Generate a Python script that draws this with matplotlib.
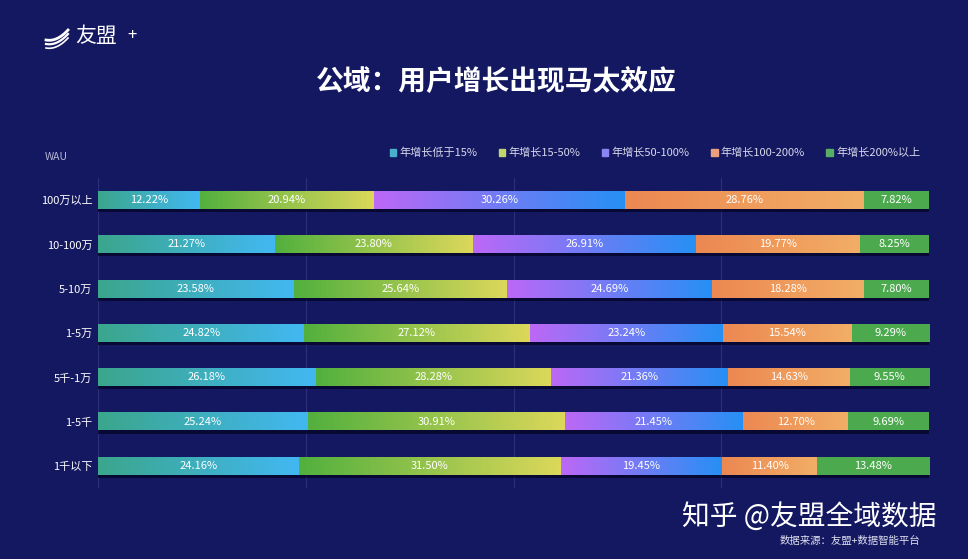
import matplotlib.pyplot as plt
import numpy as np
from matplotlib.colors import LinearSegmentedColormap
from matplotlib.patches import Rectangle

plt.rcParams['font.family'] = ['Noto Sans CJK SC', 'DejaVu Sans']

BG = '#131860'

# data
rows = ['100万以上', '10-100万', '5-10万', '1-5万', '5千-1万', '1-5千', '1千以下']
series_names = ['年增长低于15%', '年增长15-50%', '年增长50-100%', '年增长100-200%', '年增长200%以上']
low15 = [12.22, 21.27, 23.58, 24.82, 26.18, 25.24, 24.16]
g15_50 = [20.94, 23.80, 25.64, 27.12, 28.28, 30.91, 31.50]
g50_100 = [30.26, 26.91, 24.69, 23.24, 21.36, 21.45, 19.45]
g100_200 = [28.76, 19.77, 18.28, 15.54, 14.63, 12.70, 11.40]
g200 = [7.82, 8.25, 7.80, 9.29, 9.55, 9.69, 13.48]

series = [low15, g15_50, g50_100, g100_200, g200]

# gradient (left, right) per series, legend swatch colour
grads = [('#3ba68c', '#42b8f2'),
         ('#52b03e', '#dcd85a'),
         ('#bc68f6', '#2590f4'),
         ('#ec8852', '#f2ae66'),
         ('#4caa4e', '#4caa4e')]
legend_cols = ['#4ab0cc', '#c2d46c', '#8a84f4', '#eaa07e', '#58ae66']

fig = plt.figure(figsize=(9.68, 5.59), dpi=100)
fig.patch.set_facecolor(BG)

ax = fig.add_axes([98 / 968, 1 - 488 / 559, (929 - 98) / 968, (488 - 178) / 559])
ax.set_facecolor(BG)

for x in [0, 25, 50, 75, 100]:
    ax.axvline(x, color='#2b3078', lw=0.8, zorder=0)

h = 0.4
grad = np.linspace(0, 1, 256).reshape(1, -1)
for i in range(len(rows)):
    # shadow under each bar
    ax.add_patch(Rectangle((0, i - h / 2 + 0.07), 100, h, color='#05062a',
                           alpha=0.8, lw=0, zorder=1))
    left = 0
    for s, vals in enumerate(series):
        w = vals[i]
        cmap = LinearSegmentedColormap.from_list('g%d' % s, list(grads[s]))
        ax.imshow(grad, cmap=cmap, aspect='auto', zorder=2,
                  extent=[left, left + w, i + h / 2, i - h / 2])
        ax.text(left + w / 2, i, f'{w:.2f}%', ha='center', va='center',
                color='white', fontsize=8, zorder=3)
        left += w

ax.set_xlim(0, 100)
ax.set_ylim(len(rows) - 0.5, -0.5)
ax.set_yticks(range(len(rows)))
ax.set_yticklabels(rows, color='white', fontsize=8)
ax.set_xticks([])
ax.tick_params(axis='y', length=0, pad=4)
for sp in ax.spines.values():
    sp.set_visible(False)

# legend
handles = [Rectangle((0, 0), 1, 1, color=c) for c in legend_cols]
fig.legend(handles, series_names, loc='center right', bbox_to_anchor=(926 / 968, 1 - 153 / 559),
           ncol=5, frameon=False, fontsize=8, labelcolor='#d8d8ec', handlelength=0.6,
           handleheight=0.6, handletextpad=0.3, columnspacing=1.9, borderpad=0)

fig.text(45 / 968, 1 - 157 / 559, 'WAU', color='#b8b8d8', fontsize=7.5, va='center')

fig.text(496 / 968, 1 - 82 / 559, '公域：用户增长出现马太效应', color='white',
         fontsize=20, fontweight='bold', ha='center', va='center')

# logo
fig.text(75 / 968, 1 - 36 / 559, '友盟', color='white', fontsize=15, va='center')
fig.text(127 / 968, 1 - 36 / 559, '+', color='white', fontsize=12, va='center')
lx = np.linspace(0, 1, 30)
for k, dy in enumerate([0, 4, 8]):
    fig.lines.append(plt.Line2D((46 + lx * 22) / 968,
                                1 - (40 + dy - 14 * lx ** 2 + 4 * lx) / 559,
                                color='white', lw=2 - k * 0.4,
                                transform=fig.transFigure))

# watermark
fig.text(809 / 968, 1 - 517 / 559, '知乎 @友盟全域数据', color='white', fontsize=20,
         ha='center', va='center')
fig.text(850 / 968, 1 - 541 / 559, '数据来源：友盟+数据智能平台', color='#e0e0f0',
         fontsize=7.5, ha='center', va='center')

fig.savefig('out.png', dpi=100, facecolor=BG)
